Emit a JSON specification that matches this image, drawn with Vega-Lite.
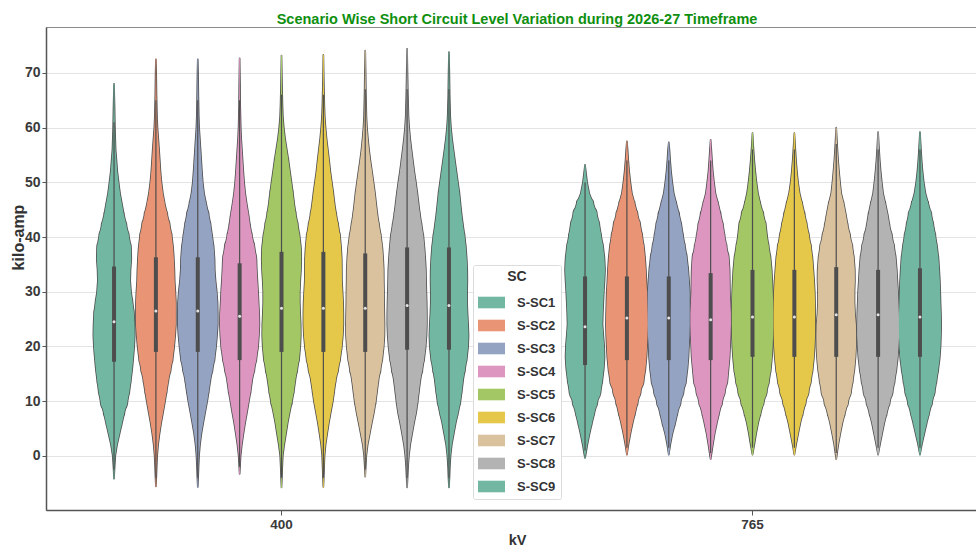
{
  "$schema": "https://vega.github.io/schema/vega-lite/v6.json",
  "width": 930,
  "height": 483,
  "autosize": {"type": "none"},
  "padding": {"left": 46, "top": 27, "right": 0, "bottom": 39},
  "background": "white",
  "config": {
    "font": "Liberation Sans",
    "view": {"stroke": "#8c8c8c", "strokeWidth": 1}
  },
  "title": {
    "text": "Scenario Wise Short Circuit Level Variation during 2026-27 Timeframe",
    "fontSize": 14.5,
    "fontWeight": "bold",
    "color": "#0f8f0f",
    "anchor": "middle",
    "frame": "group",
    "baseline": "alphabetic",
    "offset": 3,
    "dx": 6,
    "dy": 14
  },
  "datasets": {
    "violin": [
      {"kV":"400","SC":"S-SC1","v":-4.2,"density":0},{"kV":"400","SC":"S-SC1","v":-2,"density":0.6},{"kV":"400","SC":"S-SC1","v":0,"density":1.3},{"kV":"400","SC":"S-SC1","v":2,"density":3},{"kV":"400","SC":"S-SC1","v":4,"density":5.5},{"kV":"400","SC":"S-SC1","v":6,"density":8},{"kV":"400","SC":"S-SC1","v":8,"density":10.5},{"kV":"400","SC":"S-SC1","v":10,"density":13.5},{"kV":"400","SC":"S-SC1","v":12,"density":15.5},{"kV":"400","SC":"S-SC1","v":14,"density":17},{"kV":"400","SC":"S-SC1","v":16,"density":18.3},{"kV":"400","SC":"S-SC1","v":18,"density":19.3},{"kV":"400","SC":"S-SC1","v":20,"density":20.2},{"kV":"400","SC":"S-SC1","v":22,"density":20.7},{"kV":"400","SC":"S-SC1","v":24,"density":20.5},{"kV":"400","SC":"S-SC1","v":26,"density":20},{"kV":"400","SC":"S-SC1","v":28,"density":18.6},{"kV":"400","SC":"S-SC1","v":30,"density":17},{"kV":"400","SC":"S-SC1","v":32,"density":16.2},{"kV":"400","SC":"S-SC1","v":34,"density":16.5},{"kV":"400","SC":"S-SC1","v":36,"density":17.3},{"kV":"400","SC":"S-SC1","v":38,"density":17},{"kV":"400","SC":"S-SC1","v":40,"density":15},{"kV":"400","SC":"S-SC1","v":42,"density":12.5},{"kV":"400","SC":"S-SC1","v":44,"density":10},{"kV":"400","SC":"S-SC1","v":46,"density":8},{"kV":"400","SC":"S-SC1","v":48,"density":6},{"kV":"400","SC":"S-SC1","v":50,"density":4.6},{"kV":"400","SC":"S-SC1","v":52,"density":3.3},{"kV":"400","SC":"S-SC1","v":56,"density":1.6},{"kV":"400","SC":"S-SC1","v":60,"density":0.9},{"kV":"400","SC":"S-SC1","v":64,"density":0.5},{"kV":"400","SC":"S-SC1","v":68,"density":0},

      {"kV":"400","SC":"S-SC2","v":-5.6,"density":0},{"kV":"400","SC":"S-SC2","v":-4,"density":0.4},{"kV":"400","SC":"S-SC2","v":-2,"density":0.8},{"kV":"400","SC":"S-SC2","v":0,"density":1.3},{"kV":"400","SC":"S-SC2","v":2,"density":2.2},{"kV":"400","SC":"S-SC2","v":4,"density":3.6},{"kV":"400","SC":"S-SC2","v":6,"density":5.3},{"kV":"400","SC":"S-SC2","v":8,"density":7.3},{"kV":"400","SC":"S-SC2","v":10,"density":9.2},{"kV":"400","SC":"S-SC2","v":12,"density":11},{"kV":"400","SC":"S-SC2","v":14,"density":12.7},{"kV":"400","SC":"S-SC2","v":16,"density":15},{"kV":"400","SC":"S-SC2","v":18,"density":17},{"kV":"400","SC":"S-SC2","v":20,"density":18.3},{"kV":"400","SC":"S-SC2","v":22,"density":19.3},{"kV":"400","SC":"S-SC2","v":24,"density":20},{"kV":"400","SC":"S-SC2","v":26,"density":20},{"kV":"400","SC":"S-SC2","v":28,"density":20},{"kV":"400","SC":"S-SC2","v":30,"density":19.5},{"kV":"400","SC":"S-SC2","v":32,"density":18.8},{"kV":"400","SC":"S-SC2","v":34,"density":18.5},{"kV":"400","SC":"S-SC2","v":36,"density":18},{"kV":"400","SC":"S-SC2","v":38,"density":17.3},{"kV":"400","SC":"S-SC2","v":40,"density":16},{"kV":"400","SC":"S-SC2","v":42,"density":14},{"kV":"400","SC":"S-SC2","v":44,"density":11.5},{"kV":"400","SC":"S-SC2","v":46,"density":9},{"kV":"400","SC":"S-SC2","v":48,"density":7},{"kV":"400","SC":"S-SC2","v":50,"density":5.6},{"kV":"400","SC":"S-SC2","v":52,"density":4.6},{"kV":"400","SC":"S-SC2","v":54,"density":3.9},{"kV":"400","SC":"S-SC2","v":56,"density":3.2},{"kV":"400","SC":"S-SC2","v":58,"density":2.4},{"kV":"400","SC":"S-SC2","v":60,"density":1.6},{"kV":"400","SC":"S-SC2","v":62,"density":1.1},{"kV":"400","SC":"S-SC2","v":66,"density":0.6},{"kV":"400","SC":"S-SC2","v":70,"density":0.3},{"kV":"400","SC":"S-SC2","v":72.5,"density":0},

      {"kV":"400","SC":"S-SC3","v":-5.7,"density":0},{"kV":"400","SC":"S-SC3","v":-4,"density":0.4},{"kV":"400","SC":"S-SC3","v":-2,"density":0.8},{"kV":"400","SC":"S-SC3","v":0,"density":1.3},{"kV":"400","SC":"S-SC3","v":2,"density":2.2},{"kV":"400","SC":"S-SC3","v":4,"density":3.6},{"kV":"400","SC":"S-SC3","v":6,"density":5.5},{"kV":"400","SC":"S-SC3","v":8,"density":7.5},{"kV":"400","SC":"S-SC3","v":10,"density":9.5},{"kV":"400","SC":"S-SC3","v":12,"density":11.2},{"kV":"400","SC":"S-SC3","v":14,"density":12.8},{"kV":"400","SC":"S-SC3","v":16,"density":15},{"kV":"400","SC":"S-SC3","v":18,"density":17},{"kV":"400","SC":"S-SC3","v":20,"density":18.3},{"kV":"400","SC":"S-SC3","v":22,"density":19.3},{"kV":"400","SC":"S-SC3","v":24,"density":20},{"kV":"400","SC":"S-SC3","v":26,"density":20},{"kV":"400","SC":"S-SC3","v":28,"density":19.8},{"kV":"400","SC":"S-SC3","v":30,"density":19},{"kV":"400","SC":"S-SC3","v":32,"density":17.8},{"kV":"400","SC":"S-SC3","v":34,"density":17},{"kV":"400","SC":"S-SC3","v":36,"density":16.8},{"kV":"400","SC":"S-SC3","v":38,"density":16},{"kV":"400","SC":"S-SC3","v":40,"density":14.6},{"kV":"400","SC":"S-SC3","v":42,"density":13},{"kV":"400","SC":"S-SC3","v":44,"density":11},{"kV":"400","SC":"S-SC3","v":46,"density":8.5},{"kV":"400","SC":"S-SC3","v":48,"density":6.3},{"kV":"400","SC":"S-SC3","v":50,"density":5},{"kV":"400","SC":"S-SC3","v":52,"density":4.2},{"kV":"400","SC":"S-SC3","v":54,"density":3.5},{"kV":"400","SC":"S-SC3","v":56,"density":2.8},{"kV":"400","SC":"S-SC3","v":58,"density":2.1},{"kV":"400","SC":"S-SC3","v":60,"density":1.4},{"kV":"400","SC":"S-SC3","v":62,"density":1},{"kV":"400","SC":"S-SC3","v":66,"density":0.6},{"kV":"400","SC":"S-SC3","v":70,"density":0.3},{"kV":"400","SC":"S-SC3","v":72.5,"density":0},

      {"kV":"400","SC":"S-SC4","v":-3.3,"density":0},{"kV":"400","SC":"S-SC4","v":-2,"density":0.4},{"kV":"400","SC":"S-SC4","v":0,"density":1},{"kV":"400","SC":"S-SC4","v":2,"density":2.2},{"kV":"400","SC":"S-SC4","v":4,"density":3.8},{"kV":"400","SC":"S-SC4","v":6,"density":5.5},{"kV":"400","SC":"S-SC4","v":8,"density":7.5},{"kV":"400","SC":"S-SC4","v":10,"density":9.3},{"kV":"400","SC":"S-SC4","v":12,"density":11.2},{"kV":"400","SC":"S-SC4","v":14,"density":12.7},{"kV":"400","SC":"S-SC4","v":16,"density":15},{"kV":"400","SC":"S-SC4","v":18,"density":17},{"kV":"400","SC":"S-SC4","v":20,"density":18.5},{"kV":"400","SC":"S-SC4","v":22,"density":19.3},{"kV":"400","SC":"S-SC4","v":24,"density":19.8},{"kV":"400","SC":"S-SC4","v":26,"density":19.6},{"kV":"400","SC":"S-SC4","v":28,"density":19},{"kV":"400","SC":"S-SC4","v":30,"density":18.5},{"kV":"400","SC":"S-SC4","v":32,"density":17.8},{"kV":"400","SC":"S-SC4","v":34,"density":17.2},{"kV":"400","SC":"S-SC4","v":36,"density":16.8},{"kV":"400","SC":"S-SC4","v":38,"density":15},{"kV":"400","SC":"S-SC4","v":40,"density":12.6},{"kV":"400","SC":"S-SC4","v":42,"density":10.5},{"kV":"400","SC":"S-SC4","v":44,"density":9},{"kV":"400","SC":"S-SC4","v":46,"density":7.2},{"kV":"400","SC":"S-SC4","v":48,"density":5.6},{"kV":"400","SC":"S-SC4","v":50,"density":4.5},{"kV":"400","SC":"S-SC4","v":52,"density":3.7},{"kV":"400","SC":"S-SC4","v":54,"density":3},{"kV":"400","SC":"S-SC4","v":56,"density":2.3},{"kV":"400","SC":"S-SC4","v":58,"density":1.6},{"kV":"400","SC":"S-SC4","v":60,"density":1.1},{"kV":"400","SC":"S-SC4","v":64,"density":0.6},{"kV":"400","SC":"S-SC4","v":68,"density":0.4},{"kV":"400","SC":"S-SC4","v":72.7,"density":0},

      {"kV":"400","SC":"S-SC5","v":-5.8,"density":0},{"kV":"400","SC":"S-SC5","v":-4,"density":0.4},{"kV":"400","SC":"S-SC5","v":-2,"density":0.8},{"kV":"400","SC":"S-SC5","v":0,"density":1.3},{"kV":"400","SC":"S-SC5","v":2,"density":2.7},{"kV":"400","SC":"S-SC5","v":4,"density":4.5},{"kV":"400","SC":"S-SC5","v":6,"density":6.2},{"kV":"400","SC":"S-SC5","v":8,"density":8.3},{"kV":"400","SC":"S-SC5","v":10,"density":10.6},{"kV":"400","SC":"S-SC5","v":12,"density":12.5},{"kV":"400","SC":"S-SC5","v":14,"density":14},{"kV":"400","SC":"S-SC5","v":16,"density":16},{"kV":"400","SC":"S-SC5","v":18,"density":17.8},{"kV":"400","SC":"S-SC5","v":20,"density":18.8},{"kV":"400","SC":"S-SC5","v":22,"density":19.3},{"kV":"400","SC":"S-SC5","v":24,"density":19.2},{"kV":"400","SC":"S-SC5","v":26,"density":18.7},{"kV":"400","SC":"S-SC5","v":28,"density":18.3},{"kV":"400","SC":"S-SC5","v":30,"density":18.3},{"kV":"400","SC":"S-SC5","v":32,"density":18.8},{"kV":"400","SC":"S-SC5","v":34,"density":19.5},{"kV":"400","SC":"S-SC5","v":36,"density":19.8},{"kV":"400","SC":"S-SC5","v":38,"density":19.5},{"kV":"400","SC":"S-SC5","v":40,"density":18.3},{"kV":"400","SC":"S-SC5","v":42,"density":16.5},{"kV":"400","SC":"S-SC5","v":44,"density":14.5},{"kV":"400","SC":"S-SC5","v":46,"density":12.8},{"kV":"400","SC":"S-SC5","v":48,"density":11.5},{"kV":"400","SC":"S-SC5","v":50,"density":10},{"kV":"400","SC":"S-SC5","v":52,"density":8.5},{"kV":"400","SC":"S-SC5","v":54,"density":7},{"kV":"400","SC":"S-SC5","v":56,"density":5.3},{"kV":"400","SC":"S-SC5","v":58,"density":3.6},{"kV":"400","SC":"S-SC5","v":60,"density":2.3},{"kV":"400","SC":"S-SC5","v":62,"density":1.4},{"kV":"400","SC":"S-SC5","v":64,"density":1},{"kV":"400","SC":"S-SC5","v":68,"density":0.5},{"kV":"400","SC":"S-SC5","v":73.2,"density":0},

      {"kV":"400","SC":"S-SC6","v":-5.7,"density":0},{"kV":"400","SC":"S-SC6","v":-4,"density":0.4},{"kV":"400","SC":"S-SC6","v":-2,"density":0.8},{"kV":"400","SC":"S-SC6","v":0,"density":1.2},{"kV":"400","SC":"S-SC6","v":2,"density":2.2},{"kV":"400","SC":"S-SC6","v":4,"density":3.8},{"kV":"400","SC":"S-SC6","v":6,"density":5.5},{"kV":"400","SC":"S-SC6","v":8,"density":7.5},{"kV":"400","SC":"S-SC6","v":10,"density":9.5},{"kV":"400","SC":"S-SC6","v":12,"density":11},{"kV":"400","SC":"S-SC6","v":14,"density":12.6},{"kV":"400","SC":"S-SC6","v":16,"density":15},{"kV":"400","SC":"S-SC6","v":18,"density":17},{"kV":"400","SC":"S-SC6","v":20,"density":18.5},{"kV":"400","SC":"S-SC6","v":22,"density":19.5},{"kV":"400","SC":"S-SC6","v":24,"density":20},{"kV":"400","SC":"S-SC6","v":26,"density":20},{"kV":"400","SC":"S-SC6","v":28,"density":19.8},{"kV":"400","SC":"S-SC6","v":30,"density":19.2},{"kV":"400","SC":"S-SC6","v":32,"density":18.6},{"kV":"400","SC":"S-SC6","v":34,"density":18.5},{"kV":"400","SC":"S-SC6","v":36,"density":18.4},{"kV":"400","SC":"S-SC6","v":38,"density":17.8},{"kV":"400","SC":"S-SC6","v":40,"density":16.8},{"kV":"400","SC":"S-SC6","v":42,"density":15},{"kV":"400","SC":"S-SC6","v":44,"density":13},{"kV":"400","SC":"S-SC6","v":46,"density":11.3},{"kV":"400","SC":"S-SC6","v":48,"density":10},{"kV":"400","SC":"S-SC6","v":50,"density":8.5},{"kV":"400","SC":"S-SC6","v":52,"density":7},{"kV":"400","SC":"S-SC6","v":54,"density":5.8},{"kV":"400","SC":"S-SC6","v":56,"density":4.5},{"kV":"400","SC":"S-SC6","v":58,"density":3.2},{"kV":"400","SC":"S-SC6","v":60,"density":2.2},{"kV":"400","SC":"S-SC6","v":62,"density":1.4},{"kV":"400","SC":"S-SC6","v":64,"density":1},{"kV":"400","SC":"S-SC6","v":68,"density":0.5},{"kV":"400","SC":"S-SC6","v":73.3,"density":0},

      {"kV":"400","SC":"S-SC7","v":-3.8,"density":0},{"kV":"400","SC":"S-SC7","v":-2,"density":0.5},{"kV":"400","SC":"S-SC7","v":0,"density":1.1},{"kV":"400","SC":"S-SC7","v":2,"density":2.4},{"kV":"400","SC":"S-SC7","v":4,"density":4.5},{"kV":"400","SC":"S-SC7","v":6,"density":6.6},{"kV":"400","SC":"S-SC7","v":8,"density":8.8},{"kV":"400","SC":"S-SC7","v":10,"density":10.6},{"kV":"400","SC":"S-SC7","v":12,"density":12},{"kV":"400","SC":"S-SC7","v":14,"density":13.4},{"kV":"400","SC":"S-SC7","v":16,"density":15.5},{"kV":"400","SC":"S-SC7","v":18,"density":17.3},{"kV":"400","SC":"S-SC7","v":20,"density":18.5},{"kV":"400","SC":"S-SC7","v":22,"density":19.2},{"kV":"400","SC":"S-SC7","v":24,"density":19.3},{"kV":"400","SC":"S-SC7","v":26,"density":19.1},{"kV":"400","SC":"S-SC7","v":28,"density":18.9},{"kV":"400","SC":"S-SC7","v":30,"density":18.8},{"kV":"400","SC":"S-SC7","v":32,"density":18.6},{"kV":"400","SC":"S-SC7","v":34,"density":18.5},{"kV":"400","SC":"S-SC7","v":36,"density":18},{"kV":"400","SC":"S-SC7","v":38,"density":17.2},{"kV":"400","SC":"S-SC7","v":40,"density":15.8},{"kV":"400","SC":"S-SC7","v":42,"density":14},{"kV":"400","SC":"S-SC7","v":44,"density":12.3},{"kV":"400","SC":"S-SC7","v":46,"density":11},{"kV":"400","SC":"S-SC7","v":48,"density":9.8},{"kV":"400","SC":"S-SC7","v":50,"density":8.3},{"kV":"400","SC":"S-SC7","v":52,"density":6.8},{"kV":"400","SC":"S-SC7","v":54,"density":5.2},{"kV":"400","SC":"S-SC7","v":56,"density":3.8},{"kV":"400","SC":"S-SC7","v":58,"density":2.7},{"kV":"400","SC":"S-SC7","v":60,"density":1.8},{"kV":"400","SC":"S-SC7","v":62,"density":1.2},{"kV":"400","SC":"S-SC7","v":66,"density":0.7},{"kV":"400","SC":"S-SC7","v":70,"density":0.4},{"kV":"400","SC":"S-SC7","v":74.1,"density":0},

      {"kV":"400","SC":"S-SC8","v":-5.8,"density":0},{"kV":"400","SC":"S-SC8","v":-4,"density":0.5},{"kV":"400","SC":"S-SC8","v":-2,"density":1},{"kV":"400","SC":"S-SC8","v":0,"density":1.8},{"kV":"400","SC":"S-SC8","v":2,"density":3.1},{"kV":"400","SC":"S-SC8","v":4,"density":5},{"kV":"400","SC":"S-SC8","v":6,"density":7},{"kV":"400","SC":"S-SC8","v":8,"density":9.2},{"kV":"400","SC":"S-SC8","v":10,"density":10.7},{"kV":"400","SC":"S-SC8","v":12,"density":12},{"kV":"400","SC":"S-SC8","v":14,"density":13.4},{"kV":"400","SC":"S-SC8","v":16,"density":15.5},{"kV":"400","SC":"S-SC8","v":18,"density":17.3},{"kV":"400","SC":"S-SC8","v":20,"density":18.6},{"kV":"400","SC":"S-SC8","v":22,"density":19.4},{"kV":"400","SC":"S-SC8","v":24,"density":19.8},{"kV":"400","SC":"S-SC8","v":26,"density":19.8},{"kV":"400","SC":"S-SC8","v":28,"density":19.6},{"kV":"400","SC":"S-SC8","v":30,"density":19.3},{"kV":"400","SC":"S-SC8","v":32,"density":19},{"kV":"400","SC":"S-SC8","v":34,"density":18.8},{"kV":"400","SC":"S-SC8","v":36,"density":18.2},{"kV":"400","SC":"S-SC8","v":38,"density":17.4},{"kV":"400","SC":"S-SC8","v":40,"density":16.4},{"kV":"400","SC":"S-SC8","v":42,"density":14.7},{"kV":"400","SC":"S-SC8","v":44,"density":13},{"kV":"400","SC":"S-SC8","v":46,"density":11.6},{"kV":"400","SC":"S-SC8","v":48,"density":10.3},{"kV":"400","SC":"S-SC8","v":50,"density":8.8},{"kV":"400","SC":"S-SC8","v":52,"density":7.2},{"kV":"400","SC":"S-SC8","v":54,"density":5.8},{"kV":"400","SC":"S-SC8","v":56,"density":4.4},{"kV":"400","SC":"S-SC8","v":58,"density":3.1},{"kV":"400","SC":"S-SC8","v":60,"density":2.1},{"kV":"400","SC":"S-SC8","v":62,"density":1.4},{"kV":"400","SC":"S-SC8","v":66,"density":0.8},{"kV":"400","SC":"S-SC8","v":70,"density":0.4},{"kV":"400","SC":"S-SC8","v":74.4,"density":0},

      {"kV":"400","SC":"S-SC9","v":-5.8,"density":0},{"kV":"400","SC":"S-SC9","v":-4,"density":0.5},{"kV":"400","SC":"S-SC9","v":-2,"density":0.9},{"kV":"400","SC":"S-SC9","v":0,"density":1.6},{"kV":"400","SC":"S-SC9","v":2,"density":2.8},{"kV":"400","SC":"S-SC9","v":4,"density":4.8},{"kV":"400","SC":"S-SC9","v":6,"density":6.8},{"kV":"400","SC":"S-SC9","v":8,"density":9.3},{"kV":"400","SC":"S-SC9","v":10,"density":11.5},{"kV":"400","SC":"S-SC9","v":12,"density":13},{"kV":"400","SC":"S-SC9","v":14,"density":14.3},{"kV":"400","SC":"S-SC9","v":16,"density":16.2},{"kV":"400","SC":"S-SC9","v":18,"density":18},{"kV":"400","SC":"S-SC9","v":20,"density":19.2},{"kV":"400","SC":"S-SC9","v":22,"density":19.6},{"kV":"400","SC":"S-SC9","v":24,"density":19.2},{"kV":"400","SC":"S-SC9","v":26,"density":18.6},{"kV":"400","SC":"S-SC9","v":28,"density":18.2},{"kV":"400","SC":"S-SC9","v":30,"density":18.2},{"kV":"400","SC":"S-SC9","v":32,"density":18.4},{"kV":"400","SC":"S-SC9","v":34,"density":18.3},{"kV":"400","SC":"S-SC9","v":36,"density":17.8},{"kV":"400","SC":"S-SC9","v":38,"density":17},{"kV":"400","SC":"S-SC9","v":40,"density":15.8},{"kV":"400","SC":"S-SC9","v":42,"density":14.2},{"kV":"400","SC":"S-SC9","v":44,"density":12.8},{"kV":"400","SC":"S-SC9","v":46,"density":11.6},{"kV":"400","SC":"S-SC9","v":48,"density":10.5},{"kV":"400","SC":"S-SC9","v":50,"density":9},{"kV":"400","SC":"S-SC9","v":52,"density":7.5},{"kV":"400","SC":"S-SC9","v":54,"density":6},{"kV":"400","SC":"S-SC9","v":56,"density":4.5},{"kV":"400","SC":"S-SC9","v":58,"density":3.1},{"kV":"400","SC":"S-SC9","v":60,"density":2},{"kV":"400","SC":"S-SC9","v":62,"density":1.3},{"kV":"400","SC":"S-SC9","v":66,"density":0.7},{"kV":"400","SC":"S-SC9","v":70,"density":0.4},{"kV":"400","SC":"S-SC9","v":73.8,"density":0},

      {"kV":"765","SC":"S-SC1","v":-0.4,"density":0},{"kV":"765","SC":"S-SC1","v":0,"density":0.5},{"kV":"765","SC":"S-SC1","v":2,"density":2.3},{"kV":"765","SC":"S-SC1","v":4,"density":4.5},{"kV":"765","SC":"S-SC1","v":6,"density":7},{"kV":"765","SC":"S-SC1","v":8,"density":9.6},{"kV":"765","SC":"S-SC1","v":10,"density":12.5},{"kV":"765","SC":"S-SC1","v":12,"density":15.8},{"kV":"765","SC":"S-SC1","v":14,"density":17.5},{"kV":"765","SC":"S-SC1","v":16,"density":18.8},{"kV":"765","SC":"S-SC1","v":18,"density":19.5},{"kV":"765","SC":"S-SC1","v":20,"density":19.2},{"kV":"765","SC":"S-SC1","v":22,"density":18.3},{"kV":"765","SC":"S-SC1","v":24,"density":17.5},{"kV":"765","SC":"S-SC1","v":26,"density":17.8},{"kV":"765","SC":"S-SC1","v":28,"density":18.3},{"kV":"765","SC":"S-SC1","v":30,"density":18.8},{"kV":"765","SC":"S-SC1","v":32,"density":19.5},{"kV":"765","SC":"S-SC1","v":34,"density":20},{"kV":"765","SC":"S-SC1","v":36,"density":19.5},{"kV":"765","SC":"S-SC1","v":38,"density":18.3},{"kV":"765","SC":"S-SC1","v":40,"density":16.3},{"kV":"765","SC":"S-SC1","v":42,"density":14.5},{"kV":"765","SC":"S-SC1","v":44,"density":12},{"kV":"765","SC":"S-SC1","v":46,"density":8.5},{"kV":"765","SC":"S-SC1","v":48,"density":4.2},{"kV":"765","SC":"S-SC1","v":50,"density":2.1},{"kV":"765","SC":"S-SC1","v":52,"density":0.8},{"kV":"765","SC":"S-SC1","v":53.2,"density":0},

      {"kV":"765","SC":"S-SC2","v":0.2,"density":0},{"kV":"765","SC":"S-SC2","v":2,"density":1.5},{"kV":"765","SC":"S-SC2","v":4,"density":3.5},{"kV":"765","SC":"S-SC2","v":6,"density":5.8},{"kV":"765","SC":"S-SC2","v":8,"density":8.5},{"kV":"765","SC":"S-SC2","v":10,"density":11},{"kV":"765","SC":"S-SC2","v":12,"density":14},{"kV":"765","SC":"S-SC2","v":14,"density":17},{"kV":"765","SC":"S-SC2","v":16,"density":18.6},{"kV":"765","SC":"S-SC2","v":18,"density":19.6},{"kV":"765","SC":"S-SC2","v":20,"density":20.2},{"kV":"765","SC":"S-SC2","v":22,"density":20.7},{"kV":"765","SC":"S-SC2","v":24,"density":21},{"kV":"765","SC":"S-SC2","v":26,"density":20.8},{"kV":"765","SC":"S-SC2","v":28,"density":20.5},{"kV":"765","SC":"S-SC2","v":30,"density":20.2},{"kV":"765","SC":"S-SC2","v":32,"density":19.5},{"kV":"765","SC":"S-SC2","v":34,"density":19},{"kV":"765","SC":"S-SC2","v":36,"density":18.3},{"kV":"765","SC":"S-SC2","v":38,"density":17.2},{"kV":"765","SC":"S-SC2","v":40,"density":15.5},{"kV":"765","SC":"S-SC2","v":42,"density":13.5},{"kV":"765","SC":"S-SC2","v":44,"density":10.8},{"kV":"765","SC":"S-SC2","v":46,"density":8},{"kV":"765","SC":"S-SC2","v":48,"density":5},{"kV":"765","SC":"S-SC2","v":50,"density":3.5},{"kV":"765","SC":"S-SC2","v":52,"density":2.3},{"kV":"765","SC":"S-SC2","v":54,"density":1.4},{"kV":"765","SC":"S-SC2","v":56,"density":0.7},{"kV":"765","SC":"S-SC2","v":57.5,"density":0},

      {"kV":"765","SC":"S-SC3","v":0.2,"density":0},{"kV":"765","SC":"S-SC3","v":2,"density":1.5},{"kV":"765","SC":"S-SC3","v":4,"density":3.6},{"kV":"765","SC":"S-SC3","v":6,"density":6.5},{"kV":"765","SC":"S-SC3","v":8,"density":9},{"kV":"765","SC":"S-SC3","v":10,"density":12},{"kV":"765","SC":"S-SC3","v":12,"density":15},{"kV":"765","SC":"S-SC3","v":14,"density":17.5},{"kV":"765","SC":"S-SC3","v":16,"density":18.8},{"kV":"765","SC":"S-SC3","v":18,"density":19.7},{"kV":"765","SC":"S-SC3","v":20,"density":20.2},{"kV":"765","SC":"S-SC3","v":22,"density":20.8},{"kV":"765","SC":"S-SC3","v":24,"density":21},{"kV":"765","SC":"S-SC3","v":26,"density":21},{"kV":"765","SC":"S-SC3","v":28,"density":21},{"kV":"765","SC":"S-SC3","v":30,"density":21},{"kV":"765","SC":"S-SC3","v":32,"density":20.3},{"kV":"765","SC":"S-SC3","v":34,"density":19.5},{"kV":"765","SC":"S-SC3","v":36,"density":18.3},{"kV":"765","SC":"S-SC3","v":38,"density":16.5},{"kV":"765","SC":"S-SC3","v":40,"density":14.5},{"kV":"765","SC":"S-SC3","v":42,"density":12.8},{"kV":"765","SC":"S-SC3","v":44,"density":10.5},{"kV":"765","SC":"S-SC3","v":46,"density":7.8},{"kV":"765","SC":"S-SC3","v":48,"density":5},{"kV":"765","SC":"S-SC3","v":50,"density":3.5},{"kV":"765","SC":"S-SC3","v":52,"density":2.3},{"kV":"765","SC":"S-SC3","v":54,"density":1.4},{"kV":"765","SC":"S-SC3","v":56,"density":0.7},{"kV":"765","SC":"S-SC3","v":57.3,"density":0},

      {"kV":"765","SC":"S-SC4","v":-0.6,"density":0},{"kV":"765","SC":"S-SC4","v":0,"density":0.6},{"kV":"765","SC":"S-SC4","v":2,"density":2.2},{"kV":"765","SC":"S-SC4","v":4,"density":4},{"kV":"765","SC":"S-SC4","v":6,"density":6.3},{"kV":"765","SC":"S-SC4","v":8,"density":8.8},{"kV":"765","SC":"S-SC4","v":10,"density":11.7},{"kV":"765","SC":"S-SC4","v":12,"density":14.5},{"kV":"765","SC":"S-SC4","v":14,"density":17},{"kV":"765","SC":"S-SC4","v":16,"density":18},{"kV":"765","SC":"S-SC4","v":18,"density":19},{"kV":"765","SC":"S-SC4","v":20,"density":19.5},{"kV":"765","SC":"S-SC4","v":22,"density":20},{"kV":"765","SC":"S-SC4","v":24,"density":20.3},{"kV":"765","SC":"S-SC4","v":26,"density":20.3},{"kV":"765","SC":"S-SC4","v":28,"density":19.8},{"kV":"765","SC":"S-SC4","v":30,"density":19.3},{"kV":"765","SC":"S-SC4","v":32,"density":19.2},{"kV":"765","SC":"S-SC4","v":34,"density":19},{"kV":"765","SC":"S-SC4","v":36,"density":18.3},{"kV":"765","SC":"S-SC4","v":38,"density":16.2},{"kV":"765","SC":"S-SC4","v":40,"density":14.2},{"kV":"765","SC":"S-SC4","v":42,"density":12.5},{"kV":"765","SC":"S-SC4","v":44,"density":10.2},{"kV":"765","SC":"S-SC4","v":46,"density":7.7},{"kV":"765","SC":"S-SC4","v":48,"density":4.8},{"kV":"765","SC":"S-SC4","v":50,"density":3.4},{"kV":"765","SC":"S-SC4","v":52,"density":2.2},{"kV":"765","SC":"S-SC4","v":54,"density":1.4},{"kV":"765","SC":"S-SC4","v":56,"density":0.7},{"kV":"765","SC":"S-SC4","v":57.8,"density":0},

      {"kV":"765","SC":"S-SC5","v":0.2,"density":0},{"kV":"765","SC":"S-SC5","v":2,"density":1.8},{"kV":"765","SC":"S-SC5","v":4,"density":3.6},{"kV":"765","SC":"S-SC5","v":6,"density":5.7},{"kV":"765","SC":"S-SC5","v":8,"density":8.5},{"kV":"765","SC":"S-SC5","v":10,"density":11.5},{"kV":"765","SC":"S-SC5","v":12,"density":14.5},{"kV":"765","SC":"S-SC5","v":14,"density":16.8},{"kV":"765","SC":"S-SC5","v":16,"density":18.5},{"kV":"765","SC":"S-SC5","v":18,"density":19.5},{"kV":"765","SC":"S-SC5","v":20,"density":20.2},{"kV":"765","SC":"S-SC5","v":22,"density":20.6},{"kV":"765","SC":"S-SC5","v":24,"density":20.8},{"kV":"765","SC":"S-SC5","v":26,"density":20.8},{"kV":"765","SC":"S-SC5","v":28,"density":20.6},{"kV":"765","SC":"S-SC5","v":30,"density":20.3},{"kV":"765","SC":"S-SC5","v":32,"density":19.8},{"kV":"765","SC":"S-SC5","v":34,"density":19.2},{"kV":"765","SC":"S-SC5","v":36,"density":18.2},{"kV":"765","SC":"S-SC5","v":38,"density":16.5},{"kV":"765","SC":"S-SC5","v":40,"density":14.7},{"kV":"765","SC":"S-SC5","v":42,"density":13.5},{"kV":"765","SC":"S-SC5","v":44,"density":11},{"kV":"765","SC":"S-SC5","v":46,"density":8},{"kV":"765","SC":"S-SC5","v":48,"density":5.5},{"kV":"765","SC":"S-SC5","v":50,"density":4},{"kV":"765","SC":"S-SC5","v":52,"density":2.8},{"kV":"765","SC":"S-SC5","v":54,"density":1.8},{"kV":"765","SC":"S-SC5","v":56,"density":1},{"kV":"765","SC":"S-SC5","v":59,"density":0},

      {"kV":"765","SC":"S-SC6","v":0.2,"density":0},{"kV":"765","SC":"S-SC6","v":2,"density":1.7},{"kV":"765","SC":"S-SC6","v":4,"density":3.8},{"kV":"765","SC":"S-SC6","v":6,"density":6},{"kV":"765","SC":"S-SC6","v":8,"density":8.8},{"kV":"765","SC":"S-SC6","v":10,"density":11.5},{"kV":"765","SC":"S-SC6","v":12,"density":14.5},{"kV":"765","SC":"S-SC6","v":14,"density":16.8},{"kV":"765","SC":"S-SC6","v":16,"density":18.5},{"kV":"765","SC":"S-SC6","v":18,"density":19.6},{"kV":"765","SC":"S-SC6","v":20,"density":20.3},{"kV":"765","SC":"S-SC6","v":22,"density":20.7},{"kV":"765","SC":"S-SC6","v":24,"density":20.8},{"kV":"765","SC":"S-SC6","v":26,"density":20.8},{"kV":"765","SC":"S-SC6","v":28,"density":20.7},{"kV":"765","SC":"S-SC6","v":30,"density":20.4},{"kV":"765","SC":"S-SC6","v":32,"density":19.8},{"kV":"765","SC":"S-SC6","v":34,"density":19},{"kV":"765","SC":"S-SC6","v":36,"density":18.2},{"kV":"765","SC":"S-SC6","v":38,"density":16.8},{"kV":"765","SC":"S-SC6","v":40,"density":14.8},{"kV":"765","SC":"S-SC6","v":42,"density":12.7},{"kV":"765","SC":"S-SC6","v":44,"density":10.5},{"kV":"765","SC":"S-SC6","v":46,"density":8},{"kV":"765","SC":"S-SC6","v":48,"density":5.3},{"kV":"765","SC":"S-SC6","v":50,"density":3.7},{"kV":"765","SC":"S-SC6","v":52,"density":2.6},{"kV":"765","SC":"S-SC6","v":54,"density":1.7},{"kV":"765","SC":"S-SC6","v":56,"density":1},{"kV":"765","SC":"S-SC6","v":59,"density":0},

      {"kV":"765","SC":"S-SC7","v":-0.6,"density":0},{"kV":"765","SC":"S-SC7","v":0,"density":0.5},{"kV":"765","SC":"S-SC7","v":2,"density":2},{"kV":"765","SC":"S-SC7","v":4,"density":4},{"kV":"765","SC":"S-SC7","v":6,"density":6.2},{"kV":"765","SC":"S-SC7","v":8,"density":9},{"kV":"765","SC":"S-SC7","v":10,"density":12},{"kV":"765","SC":"S-SC7","v":12,"density":15},{"kV":"765","SC":"S-SC7","v":14,"density":16.8},{"kV":"765","SC":"S-SC7","v":16,"density":18.3},{"kV":"765","SC":"S-SC7","v":18,"density":19.3},{"kV":"765","SC":"S-SC7","v":20,"density":19.8},{"kV":"765","SC":"S-SC7","v":22,"density":19.9},{"kV":"765","SC":"S-SC7","v":24,"density":19.7},{"kV":"765","SC":"S-SC7","v":26,"density":18.8},{"kV":"765","SC":"S-SC7","v":28,"density":18.3},{"kV":"765","SC":"S-SC7","v":30,"density":18.3},{"kV":"765","SC":"S-SC7","v":32,"density":18.7},{"kV":"765","SC":"S-SC7","v":34,"density":18.6},{"kV":"765","SC":"S-SC7","v":36,"density":17.8},{"kV":"765","SC":"S-SC7","v":38,"density":16.3},{"kV":"765","SC":"S-SC7","v":40,"density":14},{"kV":"765","SC":"S-SC7","v":42,"density":11.6},{"kV":"765","SC":"S-SC7","v":44,"density":9.8},{"kV":"765","SC":"S-SC7","v":46,"density":7.7},{"kV":"765","SC":"S-SC7","v":48,"density":5},{"kV":"765","SC":"S-SC7","v":50,"density":3.8},{"kV":"765","SC":"S-SC7","v":52,"density":2.8},{"kV":"765","SC":"S-SC7","v":54,"density":1.9},{"kV":"765","SC":"S-SC7","v":56,"density":1.2},{"kV":"765","SC":"S-SC7","v":58,"density":0.6},{"kV":"765","SC":"S-SC7","v":60,"density":0},

      {"kV":"765","SC":"S-SC8","v":0.2,"density":0},{"kV":"765","SC":"S-SC8","v":2,"density":1.8},{"kV":"765","SC":"S-SC8","v":4,"density":4},{"kV":"765","SC":"S-SC8","v":6,"density":6.2},{"kV":"765","SC":"S-SC8","v":8,"density":9},{"kV":"765","SC":"S-SC8","v":10,"density":11.8},{"kV":"765","SC":"S-SC8","v":12,"density":14.8},{"kV":"765","SC":"S-SC8","v":14,"density":16.8},{"kV":"765","SC":"S-SC8","v":16,"density":18.5},{"kV":"765","SC":"S-SC8","v":18,"density":19.7},{"kV":"765","SC":"S-SC8","v":20,"density":20.5},{"kV":"765","SC":"S-SC8","v":22,"density":21},{"kV":"765","SC":"S-SC8","v":24,"density":21},{"kV":"765","SC":"S-SC8","v":26,"density":20.8},{"kV":"765","SC":"S-SC8","v":28,"density":20.4},{"kV":"765","SC":"S-SC8","v":30,"density":20},{"kV":"765","SC":"S-SC8","v":32,"density":19.3},{"kV":"765","SC":"S-SC8","v":34,"density":18.7},{"kV":"765","SC":"S-SC8","v":36,"density":17.8},{"kV":"765","SC":"S-SC8","v":38,"density":16.2},{"kV":"765","SC":"S-SC8","v":40,"density":14},{"kV":"765","SC":"S-SC8","v":42,"density":11.5},{"kV":"765","SC":"S-SC8","v":44,"density":9.8},{"kV":"765","SC":"S-SC8","v":46,"density":7.5},{"kV":"765","SC":"S-SC8","v":48,"density":5},{"kV":"765","SC":"S-SC8","v":50,"density":3.7},{"kV":"765","SC":"S-SC8","v":52,"density":2.6},{"kV":"765","SC":"S-SC8","v":54,"density":1.7},{"kV":"765","SC":"S-SC8","v":56,"density":1},{"kV":"765","SC":"S-SC8","v":59.2,"density":0},

      {"kV":"765","SC":"S-SC9","v":0.2,"density":0},{"kV":"765","SC":"S-SC9","v":2,"density":1.8},{"kV":"765","SC":"S-SC9","v":4,"density":4.3},{"kV":"765","SC":"S-SC9","v":6,"density":6.8},{"kV":"765","SC":"S-SC9","v":8,"density":9.5},{"kV":"765","SC":"S-SC9","v":10,"density":12.3},{"kV":"765","SC":"S-SC9","v":12,"density":15},{"kV":"765","SC":"S-SC9","v":14,"density":16.8},{"kV":"765","SC":"S-SC9","v":16,"density":18.5},{"kV":"765","SC":"S-SC9","v":18,"density":19.8},{"kV":"765","SC":"S-SC9","v":20,"density":20.6},{"kV":"765","SC":"S-SC9","v":22,"density":21},{"kV":"765","SC":"S-SC9","v":24,"density":21.2},{"kV":"765","SC":"S-SC9","v":26,"density":21},{"kV":"765","SC":"S-SC9","v":28,"density":20.6},{"kV":"765","SC":"S-SC9","v":30,"density":20.3},{"kV":"765","SC":"S-SC9","v":32,"density":19.9},{"kV":"765","SC":"S-SC9","v":34,"density":19.3},{"kV":"765","SC":"S-SC9","v":36,"density":18.6},{"kV":"765","SC":"S-SC9","v":38,"density":17.3},{"kV":"765","SC":"S-SC9","v":40,"density":15.6},{"kV":"765","SC":"S-SC9","v":42,"density":13.6},{"kV":"765","SC":"S-SC9","v":44,"density":11.5},{"kV":"765","SC":"S-SC9","v":46,"density":8.5},{"kV":"765","SC":"S-SC9","v":48,"density":5.5},{"kV":"765","SC":"S-SC9","v":50,"density":3.8},{"kV":"765","SC":"S-SC9","v":52,"density":2.6},{"kV":"765","SC":"S-SC9","v":54,"density":1.7},{"kV":"765","SC":"S-SC9","v":56,"density":1},{"kV":"765","SC":"S-SC9","v":59.2,"density":0}
    ],
    "box": [
      {"kV":"400","SC":"S-SC1","lo":-2.5,"q1":17.2,"med":24.5,"q3":34.6,"hi":61},
      {"kV":"400","SC":"S-SC2","lo":-4,"q1":19.0,"med":26.5,"q3":36.3,"hi":65},
      {"kV":"400","SC":"S-SC3","lo":-4,"q1":19.0,"med":26.5,"q3":36.3,"hi":65},
      {"kV":"400","SC":"S-SC4","lo":-2,"q1":17.5,"med":25.5,"q3":35.2,"hi":65},
      {"kV":"400","SC":"S-SC5","lo":-4,"q1":19.0,"med":27.0,"q3":37.3,"hi":66},
      {"kV":"400","SC":"S-SC6","lo":-4,"q1":19.0,"med":27.0,"q3":37.3,"hi":66},
      {"kV":"400","SC":"S-SC7","lo":-2.5,"q1":19.0,"med":27.0,"q3":37.0,"hi":67},
      {"kV":"400","SC":"S-SC8","lo":-4,"q1":19.4,"med":27.5,"q3":38.1,"hi":67},
      {"kV":"400","SC":"S-SC9","lo":-4,"q1":19.4,"med":27.5,"q3":38.1,"hi":67},
      {"kV":"765","SC":"S-SC1","lo":1,"q1":16.6,"med":23.6,"q3":32.8,"hi":50},
      {"kV":"765","SC":"S-SC2","lo":1.5,"q1":17.5,"med":25.2,"q3":32.8,"hi":54},
      {"kV":"765","SC":"S-SC3","lo":1.5,"q1":17.5,"med":25.2,"q3":32.8,"hi":54},
      {"kV":"765","SC":"S-SC4","lo":0.5,"q1":17.5,"med":24.9,"q3":33.4,"hi":54},
      {"kV":"765","SC":"S-SC5","lo":1.5,"q1":18.1,"med":25.4,"q3":34.0,"hi":56},
      {"kV":"765","SC":"S-SC6","lo":1.5,"q1":18.1,"med":25.4,"q3":34.0,"hi":56},
      {"kV":"765","SC":"S-SC7","lo":0.5,"q1":18.1,"med":25.8,"q3":34.5,"hi":57},
      {"kV":"765","SC":"S-SC8","lo":1.5,"q1":18.1,"med":25.8,"q3":34.0,"hi":56},
      {"kV":"765","SC":"S-SC9","lo":1.5,"q1":18.1,"med":25.4,"q3":34.3,"hi":56}
    ]
  },
  "encoding": {
    "x": {
      "field": "kV",
      "type": "nominal",
      "title": "kV",
      "scale": {"domain": ["400", "765"], "range": [0, 942], "paddingInner": 0.2, "paddingOuter": 0.1},
      "axis": {
        "labelAngle": 0,
        "labelFontSize": 13.5,
        "labelFontWeight": "bold",
        "labelColor": "#3a3a3a",
        "labelPadding": 2,
        "tickSize": 5,
        "tickColor": "#555555",
        "domainColor": "#555555",
        "domainWidth": 1.5,
        "grid": false,
        "titleFontSize": 14.5,
        "titleFontWeight": "bold",
        "titleColor": "#333333",
        "titlePadding": 3
      }
    },
    "xOffset": {
      "field": "SC",
      "type": "nominal",
      "scale": {
        "domain": ["S-SC1", "S-SC2", "S-SC3", "S-SC4", "S-SC5", "S-SC6", "S-SC7", "S-SC8", "S-SC9"],
        "paddingInner": 0,
        "paddingOuter": 0
      }
    }
  },
  "layer": [
    {
      "data": {"name": "violin"},
      "mark": {"type": "trail", "color": "#4d4d4d"},
      "encoding": {
        "y": {
          "field": "v",
          "type": "quantitative",
          "title": "kilo-amp",
          "scale": {"domain": [-9.9, 78.4], "nice": false, "zero": false},
          "axis": {
            "values": [0, 10, 20, 30, 40, 50, 60, 70],
            "grid": true,
            "gridColor": "#e4e4e4",
            "gridWidth": 1,
            "domainColor": "#555555",
            "domainWidth": 1.5,
            "tickColor": "#555555",
            "tickSize": 4,
            "labelFontSize": 14,
            "labelFontWeight": "bold",
            "labelColor": "#3a3a3a",
            "labelPadding": 2,
            "titleFontSize": 16,
            "titleFontWeight": "bold",
            "titleColor": "#333333",
            "titleX": -28,
            "titleY": 210,
            "titleAlign": "center",
            "titleBaseline": "middle"
          }
        },
        "size": {
          "field": "density",
          "type": "quantitative",
          "scale": {"domain": [0, 21], "range": [1.6, 43.6]},
          "legend": null
        },
        "order": {"field": "v", "type": "quantitative"},
        "detail": [{"field": "kV"}, {"field": "SC"}]
      }
    },
    {
      "data": {"name": "violin"},
      "mark": {"type": "trail", "opacity": 1},
      "encoding": {
        "y": {"field": "v", "type": "quantitative", "title": "kilo-amp", "scale": {"domain": [-9.9, 78.4], "nice": false, "zero": false}},
        "size": {
          "field": "density",
          "type": "quantitative",
          "scale": {"domain": [0, 21], "range": [0, 42]},
          "legend": null
        },
        "color": {
          "field": "SC",
          "type": "nominal",
          "scale": {
            "domain": ["S-SC1", "S-SC2", "S-SC3", "S-SC4", "S-SC5", "S-SC6", "S-SC7", "S-SC8", "S-SC9"],
            "range": ["#71b7a1", "#e99575", "#95a3c3", "#dc96c0", "#a2c764", "#e5c849", "#dbc29e", "#b3b3b3", "#71b7a1"]
          },
          "legend": {
            "title": "SC",
            "orient": "none",
            "legendX": 427,
            "legendY": 238,
            "fillColor": "white",
            "strokeColor": "#dcdcdc",
            "padding": 5,
            "cornerRadius": 2,
            "titleFontSize": 14,
            "titleFontWeight": "bold",
            "titleColor": "#333333",
            "titleAnchor": "middle",
            "titlePadding": 5,
            "labelFontSize": 13,
            "labelFontWeight": "bold",
            "labelColor": "#333333",
            "labelOffset": 12,
            "symbolType": "M-1,-0.43H1V0.43H-1Z",
            "symbolSize": 729,
            "symbolStrokeWidth": 0,
            "symbolOpacity": 1,
            "rowPadding": 2,
            "encode": {
              "symbols": {
                "update": {
                  "fill": {"scale": "color", "field": "value"},
                  "fillOpacity": {"value": 1},
                  "strokeWidth": {"value": 0}
                }
              }
            }
          }
        },
        "order": {"field": "v", "type": "quantitative"},
        "detail": {"field": "kV"}
      }
    },
    {
      "data": {"name": "box"},
      "mark": {"type": "rule", "color": "#4d4d4d", "strokeWidth": 1.2},
      "encoding": {
        "y": {"field": "lo", "type": "quantitative", "title": "kilo-amp", "scale": {"domain": [-9.9, 78.4], "nice": false, "zero": false}},
        "y2": {"field": "hi"}
      }
    },
    {
      "data": {"name": "box"},
      "mark": {"type": "rule", "color": "#4d4d4d", "strokeWidth": 4},
      "encoding": {
        "y": {"field": "q1", "type": "quantitative", "title": "kilo-amp", "scale": {"domain": [-9.9, 78.4], "nice": false, "zero": false}},
        "y2": {"field": "q3"}
      }
    },
    {
      "data": {"name": "box"},
      "mark": {"type": "point", "filled": true, "color": "white", "size": 9, "opacity": 0.85},
      "encoding": {
        "y": {"field": "med", "type": "quantitative", "title": "kilo-amp", "scale": {"domain": [-9.9, 78.4], "nice": false, "zero": false}}
      }
    }
  ],
  "resolve": {"scale": {"size": "independent"}}
}
